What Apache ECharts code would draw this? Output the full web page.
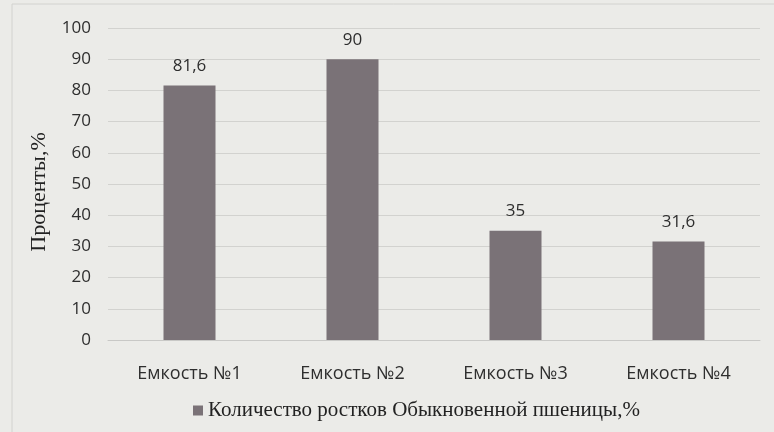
<!DOCTYPE html>
<html><head><meta charset="utf-8">
<script src="https://cdn.jsdelivr.net/npm/echarts@6/dist/echarts.min.js"></script>
<style>html,body{margin:0;padding:0;background:#ebebe8;}#c{width:774px;height:432px;}</style>
</head><body><div id="c"></div>
<script>
const categories = ['Емкость №1', 'Емкость №2', 'Емкость №3', 'Емкость №4'];
const values = [81.6, 90, 35, 31.6];
const seriesName = 'Количество ростков Обыкновенной пшеницы,%';
const yTitle = 'Проценты,%';

const chart = echarts.init(document.getElementById('c'));
chart.setOption({
  backgroundColor: '#ebebe8',
  graphic: [{type:'rect', shape:{x:12, y:4, width:770, height:440}, style:{fill:'none', stroke:'#d2d2cf', lineWidth:1}, silent:true}],
  grid: {left: 108, right: 14, top: 28, bottom: 92},
  xAxis: {
    type: 'category', data: categories,
    axisLine: {lineStyle: {color: '#c8c8c6'}}, axisTick: {show: false},
    axisLabel: {color: '#2e2e2e', fontFamily: 'Open Sans', fontSize: 18, margin: 25}
  },
  yAxis: {
    type: 'value', min: 0, max: 100, interval: 10,
    name: yTitle, nameLocation: 'middle', nameGap: 58,
    nameTextStyle: {fontFamily: 'Liberation Serif', fontSize: 22, color: '#222', padding: [0, 0, 0, -16]},
    axisLabel: {color: '#2e2e2e', fontFamily: 'Open Sans', fontSize: 17, margin: 17},
    splitLine: {lineStyle: {color: '#d2d2cf'}},
    axisLine: {show: false}, axisTick: {show: false}
  },
  legend: {
    bottom: 6, left: 188, itemWidth: 10, itemHeight: 10, icon: 'rect', itemGap: 4,
    textStyle: {fontFamily: 'Liberation Serif', fontSize: 21, color: '#222'}
  },
  series: [{
    name: seriesName, type: 'bar', data: values, barWidth: 52,
    itemStyle: {color: '#7a7277'},
    label: {show: true, position: 'top', distance: 11, color: '#2e2e2e', fontFamily: 'Open Sans', fontSize: 17,
      formatter: p => String(p.value).replace('.', ',')}
  }]
});
</script></body></html>
